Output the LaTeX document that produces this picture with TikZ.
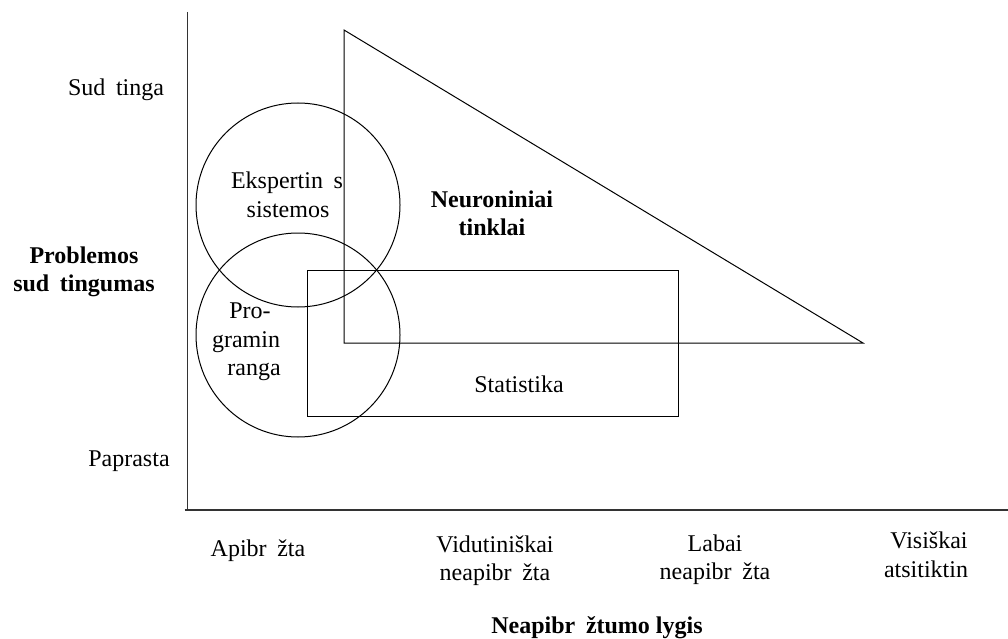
\documentclass[tikz,border=0pt]{standalone}
\usepackage{fontspec}
\setmainfont{Liberation Serif}
\begin{document}
\begin{tikzpicture}[x=1pt,y=-1pt,
  lbl/.style={inner sep=0pt,anchor=base,font=\fontsize{24}{28.5}\selectfont},
  blbl/.style={lbl,font=\fontsize{24}{28.5}\selectfont\bfseries},
  outl/.style={line width=1pt,black},
  axisline/.style={line width=1.6pt,black!80}]
\useasboundingbox (0,0) rectangle (1008,639);
% axes
\coordinate (ytop) at (187.5,12);
\coordinate (orig) at (187.5,510);
\coordinate (xstart) at (184.5,510);
\coordinate (xend) at (1008,510);
\draw[axisline] (ytop) -- (orig);
\draw[axisline] (xstart) -- (xend);
% triangle
\draw[outl] (344,30) -- (344,343) -- (863,343) -- cycle;
% rectangle
\draw[outl] (307,270) rectangle (678,416);
% circles
\draw[outl] (298,205) circle[radius=102];
\draw[outl] (298,335) circle[radius=102];
% y labels
\node[lbl] (sud) at (116,96) {Sud\hspace{.444em}tinga};
\node[blbl] (prob1) at (84,263) {Problemos};
\node[blbl] (prob2) at (84,291) {sud\hspace{.444em}tingumas};
\node[lbl] (papr) at (129,466) {Paprasta};
% inner labels
\node[lbl] (eks1) at (287,189) {Ekspertin\hspace{.444em}s};
\node[lbl] (eks2) at (288,217) {sistemos};
\node[lbl] (prog1) at (250,318) {Pro-};
\node[lbl] (prog2) at (246,347) {gramin};
\node[lbl] (prog3) at (254,375) {ranga};
\node[blbl] (neu1) at (492,207) {Neuroniniai};
\node[blbl] (neu2) at (492,235) {tinklai};
\node[lbl] (stat) at (519,392) {Statistika};
% x labels
\node[lbl] (apib) at (258,556) {Apibr\hspace{.444em}žta};
\node[lbl] (vid1) at (495,552) {Vidutiniškai};
\node[lbl] (vid2) at (495,580) {neapibr\hspace{.444em}žta};
\node[lbl] (lab1) at (715,551) {Labai};
\node[lbl] (lab2) at (715,579) {neapibr\hspace{.444em}žta};
\node[lbl] (vis1) at (929,548) {Visiškai};
\node[lbl] (vis2) at (926,577) {atsitiktin};
\node[blbl] (xt) at (597,633) {Neapibr\hspace{.444em}žtumo lygis};
\end{tikzpicture}
\end{document}
